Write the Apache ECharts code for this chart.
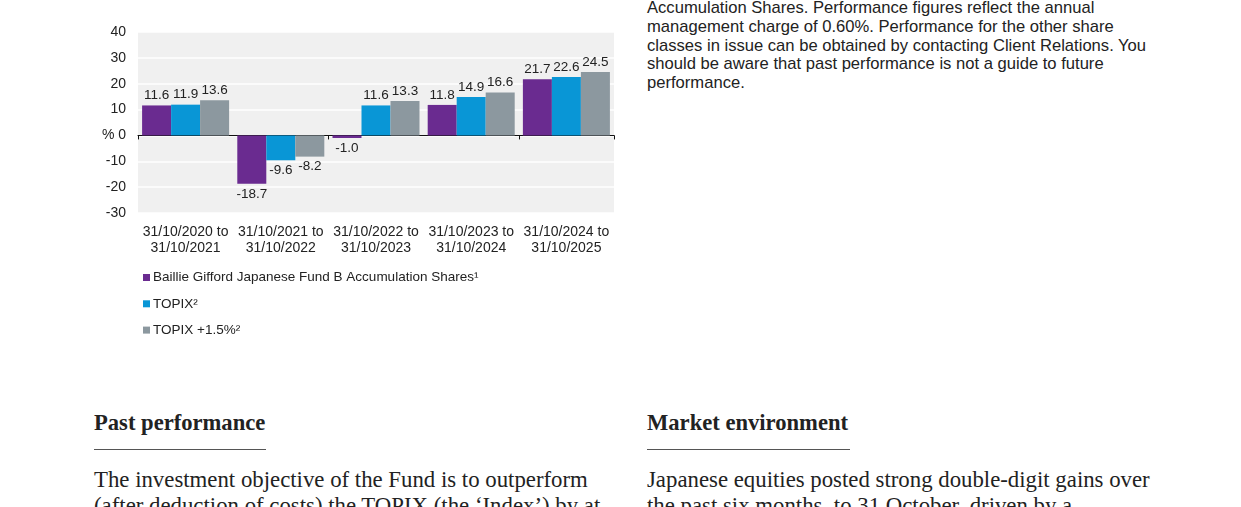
<!DOCTYPE html>
<html>
<head>
<meta charset="utf-8">
<script src="https://cdn.jsdelivr.net/npm/echarts@6/dist/echarts.min.js"></script>
<style>
  html, body { margin:0; padding:0; background:#fff; width:1241px; height:507px; overflow:hidden; position:relative; }
  #chart { position:absolute; left:0; top:0; width:640px; height:360px; }
  .note { position:absolute; left:647px; top:-1px; width:560px; font-family:"Liberation Sans", Arial, sans-serif; font-size:16.6px; line-height:18.8px; color:#222; white-space:nowrap; }
  .h { position:absolute; font-family:"Liberation Serif", "Times New Roman", serif; font-weight:bold; font-size:22.6px; color:#222; white-space:nowrap; }
  .rule { position:absolute; height:0; border-top:1.3px solid #555; }
  .p { position:absolute; font-family:"Liberation Serif", "Times New Roman", serif; font-size:22.8px; line-height:26.7px; color:#222; white-space:nowrap; }
</style>
</head>
<body>
<div id="chart"></div>
<div class="note">Accumulation Shares. Performance figures reflect the annual<br>management charge of 0.60%. Performance for the other share<br>classes in issue can be obtained by contacting Client Relations. You<br>should be aware that past performance is not a guide to future<br>performance.</div>
<div class="h" style="left:94px; top:410px;">Past performance</div>
<div class="rule" style="left:94px; top:449px; width:172px;"></div>
<div class="h" style="left:647px; top:410px;">Market environment</div>
<div class="rule" style="left:647px; top:449px; width:203px;"></div>
<div class="p" style="left:94px; top:466.5px;">The investment objective of the Fund is to outperform<br>(after deduction of costs) the TOPIX (the ‘Index’) by at</div>
<div class="p" style="left:647px; top:466.5px;">Japanese equities posted strong double-digit gains over<br>the past six months, to 31 October, driven by a</div>
<script>
const categories = ['31/10/2020 to\n31/10/2021', '31/10/2021 to\n31/10/2022', '31/10/2022 to\n31/10/2023', '31/10/2023 to\n31/10/2024', '31/10/2024 to\n31/10/2025'];
const seriesNames = ['Baillie Gifford Japanese Fund B Accumulation Shares¹', 'TOPIX²', 'TOPIX +1.5%²'];
const fundValues = [11.6, -18.7, -1.0, 11.8, 21.7];
const topixValues = [11.9, -9.6, 11.6, 14.9, 22.6];
const topixPlusValues = [13.6, -8.2, 13.3, 16.6, 24.5];
const yTicks = [-30, -20, -10, 0, 10, 20, 30, 40];

const colors = ['#6a2b90', '#0996d6', '#8c989f'];
const FONT = '"Liberation Sans", Arial, sans-serif';

function withLabels(arr) {
  return arr.map(v => ({ value: v, label: { position: v < 0 ? 'bottom' : 'top' } }));
}

const chart = echarts.init(document.getElementById('chart'), null, { renderer: 'canvas' });
const seriesData = [fundValues, topixValues, topixPlusValues];
chart.setOption({
  animation: false,
  textStyle: { fontFamily: FONT },
  grid: { left: 138, top: 32, width: 476, height: 181, show: true, backgroundColor: '#f0f0f0', borderWidth: 0, containLabel: false },
  legend: {
    orient: 'vertical', left: 138, top: 265.5, itemWidth: 7, itemHeight: 7, itemGap: 12.3,
    icon: 'rect', selectedMode: false,
    textStyle: { fontFamily: FONT, fontSize: 13.5, color: '#222', padding: [0, 0, 0, -2] },
    data: seriesNames
  },
  xAxis: [{
    type: 'category', data: categories,
    axisLine: { show: false, onZero: false }, axisTick: { show: false },
    axisLabel: { fontFamily: FONT, fontSize: 14, color: '#222', lineHeight: 16, margin: 11, interval: 0 }
  }, {
    type: 'category', data: categories, position: 'bottom',
    axisLine: { show: true, onZero: true, lineStyle: { color: '#111', width: 1 } },
    axisTick: { show: true, length: 4, lineStyle: { color: '#111' } },
    axisLabel: { show: false }
  }],
  yAxis: {
    type: 'value', min: -30, max: 40, interval: 10,
    axisLine: { show: false }, axisTick: { show: false },
    splitLine: { show: true, lineStyle: { color: '#ffffff', width: 1.5 } },
    axisLabel: {
      fontFamily: FONT, fontSize: 14, color: '#222', margin: 12,
      formatter: v => (yTicks.includes(v) ? (v === 0 ? '% 0' : String(v)) : '')
    }
  },
  series: seriesData.map((arr, i) => ({
    name: seriesNames[i], type: 'bar', xAxisIndex: 0,
    data: withLabels(arr),
    barGap: '0%', barCategoryGap: '8.6%',
    itemStyle: { color: colors[i] },
    label: { show: true, fontFamily: FONT, fontSize: 13.5, color: '#222', distance: 3, formatter: p => p.value.toFixed(1) }
  }))
});
</script>
</body>
</html>
